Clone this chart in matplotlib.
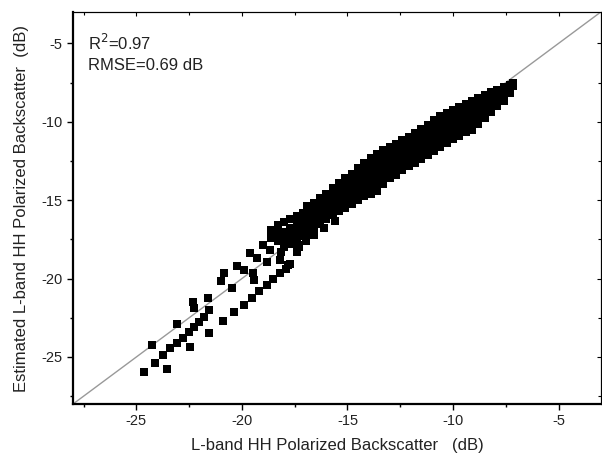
import numpy as np
import matplotlib
matplotlib.use("Agg")
import matplotlib.pyplot as plt
from matplotlib.ticker import MultipleLocator

plt.rcParams['font.family'] = ['Liberation Sans', 'DejaVu Sans']
plt.rcParams['axes.unicode_minus'] = False

# sparse points (measured vs estimated, dB)
sparse_x = [-24.63, -24.10, -23.54, -24.25, -23.74, -23.40, -23.08, -22.80, -23.08, -22.45,
            -22.50, -22.26, -22.02, -21.79, -21.56, -21.56, -22.34, -22.26, -21.59, -20.89,
            -20.39, -19.92, -19.53, -19.17, -18.83, -18.52, -18.21, -17.93, -17.70, -21.01,
            -20.86, -20.47, -20.23, -19.92, -19.45, -19.49, -19.64, -19.30, -18.83, -18.99,
            -18.68, -18.21, -18.13, -18.29, -17.74, -17.35, -17.90, -18.52, -17.28, -16.89,
            -16.57, -17.80, -17.40, -17.30, -16.95, -16.60, -16.10, -15.60]
sparse_y = [-25.96, -25.36, -25.76, -24.24, -24.87, -24.41, -24.09, -23.77, -22.92, -24.38,
            -23.39, -23.07, -22.75, -22.43, -22.01, -23.49, -21.47, -21.90, -21.22, -22.71,
            -22.11, -21.69, -21.26, -20.80, -20.41, -20.05, -19.67, -19.41, -19.10, -20.14,
            -19.63, -20.63, -19.19, -19.46, -20.10, -19.67, -18.39, -18.71, -18.93, -17.87,
            -18.18, -18.82, -18.29, -17.55, -17.76, -17.87, -17.23, -17.34, -17.12, -17.23,
            -17.12, -19.14, -18.30, -18.00, -17.60, -17.25, -16.75, -16.35]

# dense band, listed column by column
band_x = [-18.6, -18.3, -18.0, -17.7, -17.4, -17.1,
          -16.9, -16.6, -16.3, -16.0, -15.7, -15.4, -15.1, -14.8, -14.5, -14.2,
          -13.9, -13.6, -13.3, -13.0, -12.7, -12.4, -12.1, -11.8, -11.5, -11.2,
          -10.9, -10.6, -10.3, -10.0, -9.7, -9.4, -9.1, -8.8, -8.5, -8.2,
          -7.9, -7.6, -7.3, -7.15]
band_y = [
    [-17.4, -16.9],
    [-17.6, -17.1, -16.6],
    [-18.0, -17.5, -17.0, -16.4],
    [-17.8, -17.3, -16.8, -16.2],
    [-17.5, -17.0, -16.5, -16.0],
    [-17.3, -16.8, -16.3, -15.8],
    [-16.9, -16.5, -16.1, -15.75, -15.4],
    [-16.8, -16.4, -16.0, -15.6, -15.15],
    [-16.5, -16.15, -15.8, -15.45, -15.15, -14.85],
    [-16.2, -15.85, -15.5, -15.2, -14.9, -14.6],
    [-15.95, -15.6, -15.25, -14.9, -14.55, -14.25],
    [-15.7, -15.35, -15.0, -14.65, -14.3, -13.9],
    [-15.5, -15.15, -14.8, -14.45, -14.1, -13.85, -13.6],
    [-15.25, -14.9, -14.55, -14.2, -13.9, -13.6, -13.3],
    [-15.0, -14.65, -14.3, -14.0, -13.65, -13.3, -12.95],
    [-14.75, -14.4, -14.05, -13.7, -13.35, -12.95, -12.6],
    [-14.6, -14.25, -13.9, -13.55, -13.2, -12.85, -12.55, -12.3],
    [-14.4, -14.05, -13.7, -13.35, -13.0, -12.7, -12.35, -12.05],
    [-13.95, -13.6, -13.25, -12.9, -12.55, -12.2, -11.8],
    [-13.6, -13.25, -12.9, -12.6, -12.25, -11.9, -11.6],
    [-13.4, -13.05, -12.7, -12.4, -12.05, -11.7, -11.4],
    [-13.1, -12.75, -12.4, -12.1, -11.8, -11.45, -11.15],
    [-12.85, -12.5, -12.15, -11.85, -11.55, -11.25, -10.95],
    [-12.6, -12.25, -11.9, -11.6, -11.3, -11.0, -10.7],
    [-12.35, -12.0, -11.65, -11.35, -11.05, -10.75, -10.45],
    [-12.1, -11.75, -11.4, -11.1, -10.8, -10.5, -10.2],
    [-11.85, -11.5, -11.15, -10.85, -10.55, -10.2, -9.9],
    [-11.6, -11.25, -10.9, -10.6, -10.3, -9.95, -9.65],
    [-11.35, -11.0, -10.7, -10.4, -10.1, -9.75, -9.45],
    [-11.1, -10.75, -10.45, -10.15, -9.85, -9.55, -9.25],
    [-10.9, -10.55, -10.25, -9.95, -9.65, -9.35, -9.05],
    [-10.65, -10.3, -10.0, -9.7, -9.4, -9.1, -8.85],
    [-10.5, -10.15, -9.8, -9.5, -9.2, -8.9, -8.65],
    [-10.15, -9.8, -9.5, -9.2, -8.85, -8.5],
    [-9.75, -9.45, -9.15, -8.85, -8.55, -8.3],
    [-9.4, -9.1, -8.8, -8.45, -8.1],
    [-9.0, -8.7, -8.35, -7.95],
    [-8.65, -8.3, -7.8],
    [-8.15, -7.9, -7.65],
    [-7.75, -7.5],
]

ax_lim = [-28, -3]
ticks = [-25, -20, -15, -10, -5]

bx = [x for x, col in zip(band_x, band_y) for _ in col]
by = [y for col in band_y for y in col]

fig = plt.figure(figsize=(6.02, 4.62), dpi=100)
ax = fig.add_axes([0.1213, 0.1255, 0.8767, 0.8485])

ax.plot(ax_lim, ax_lim, color='#999999', linewidth=1.0, zorder=1)
ax.plot(sparse_x + bx, sparse_y + by, marker='s', linestyle='', color='black',
        markersize=5.2, markeredgewidth=0, zorder=2)

ax.set_xlim(ax_lim)
ax.set_ylim(ax_lim)
ax.set_xticks(ticks)
ax.set_yticks(ticks)
ax.xaxis.set_minor_locator(MultipleLocator(2.5))
ax.yaxis.set_minor_locator(MultipleLocator(2.5))
ax.tick_params(which='both', direction='out', top=False, right=False, labelsize=10.5,
               width=1, labelcolor='#222222')
ax.tick_params(which='major', length=4)
ax.tick_params(which='minor', length=2.5)

for side in ['left', 'bottom']:
    ax.spines[side].set_linewidth(1.6)
for side in ['top', 'right']:
    ax.spines[side].set_linewidth(0.8)

# mirrored inward ticks on top/right
secx = ax.secondary_xaxis('top')
secx.set_xticks(ticks)
secx.xaxis.set_minor_locator(MultipleLocator(2.5))
secx.tick_params(which='both', direction='in', labeltop=False, width=0.8)
secx.tick_params(which='major', length=3)
secx.tick_params(which='minor', length=2)
secx.spines['top'].set_linewidth(0.8)
secy = ax.secondary_yaxis('right')
secy.set_yticks(ticks)
secy.yaxis.set_minor_locator(MultipleLocator(2.5))
secy.tick_params(which='both', direction='in', labelright=False, width=0.8)
secy.tick_params(which='major', length=3)
secy.tick_params(which='minor', length=2)
secy.spines['right'].set_linewidth(0.8)

ax.text(0.028, 0.92, r'R$^2$=0.97', transform=ax.transAxes, fontsize=12,
        va='center', ha='left', color='#222222')
ax.text(0.028, 0.863, 'RMSE=0.69 dB', transform=ax.transAxes, fontsize=12,
        va='center', ha='left', color='#222222')

ax.set_xlabel('L-band HH Polarized Backscatter   (dB)', fontsize=12, color='#222222', labelpad=7)
ax.set_ylabel('Estimated L-band HH Polarized Backscatter  (dB)', fontsize=12, color='#222222',
              labelpad=9)

fig.savefig('out.png', dpi=100)
